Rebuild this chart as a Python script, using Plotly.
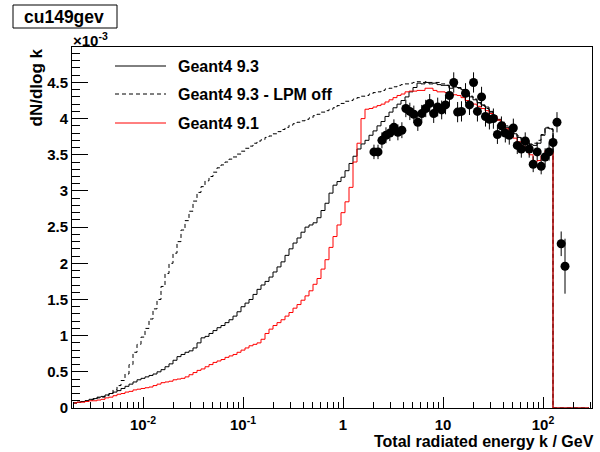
import numpy as np
import plotly.graph_objects as go

# ---------------- data (dN/dlog k in units of 1e-3) ----------------
LOG_K_MIN = -2.70      # log10 of lower edge of first bin (GeV)
LOG_BIN_WIDTH = 0.04   # bin width in log10(k)

geant4_93 = [
    0.07, 0.08, 0.09, 0.10, 0.12, 0.13, 0.15, 0.16, 0.18, 0.20,
    0.22, 0.24, 0.27, 0.30, 0.33, 0.36, 0.39, 0.41, 0.43, 0.45,
    0.47, 0.50, 0.53, 0.57, 0.61, 0.66, 0.71, 0.74, 0.77, 0.79,
    0.83, 0.90, 0.97, 0.99, 1.03, 1.07, 1.11, 1.14, 1.18, 1.22,
    1.27, 1.33, 1.40, 1.45, 1.50, 1.57, 1.64, 1.70, 1.75, 1.81,
    1.88, 1.95, 2.02, 2.11, 2.20, 2.28, 2.35, 2.43, 2.50, 2.53,
    2.56, 2.63, 2.73, 2.83, 2.97, 3.08, 3.13, 3.19, 3.28, 3.38,
    3.48, 3.58, 3.65, 3.70, 3.77, 3.83, 3.90, 3.96, 4.03, 4.09,
    4.15, 4.20, 4.25, 4.30, 4.37, 4.43, 4.49, 4.48, 4.50, 4.48,
    4.49, 4.47, 4.46, 4.46, 4.42, 4.44, 4.43, 4.40, 4.35, 4.30,
    4.26, 4.22, 4.19, 4.16, 4.10, 4.04, 3.99, 3.94, 3.88, 3.83,
    3.79, 3.74, 3.70, 3.67, 3.64, 3.63, 3.66, 3.77, 3.87, 3.86,
    0, 0, 0, 0, 0, 0, 0, 0, 0,
]

geant4_93_lpm_off = [
    0.07, 0.08, 0.09, 0.10, 0.11, 0.12, 0.14, 0.15, 0.17, 0.20,
    0.25, 0.31, 0.38, 0.47, 0.60, 0.77, 0.88, 0.98, 1.10, 1.23,
    1.37, 1.50, 1.68, 1.86, 2.00, 2.14, 2.30, 2.46, 2.59, 2.72,
    2.86, 2.98, 3.06, 3.14, 3.20, 3.26, 3.32, 3.36, 3.40, 3.44,
    3.47, 3.51, 3.55, 3.59, 3.62, 3.66, 3.69, 3.71, 3.74, 3.76,
    3.79, 3.82, 3.85, 3.88, 3.91, 3.93, 3.95, 3.97, 3.99, 4.01,
    4.04, 4.06, 4.09, 4.11, 4.13, 4.15, 4.18, 4.21, 4.24, 4.25,
    4.27, 4.29, 4.31, 4.32, 4.34, 4.36, 4.37, 4.39, 4.41, 4.42,
    4.44, 4.46, 4.47, 4.48, 4.49, 4.50, 4.51, 4.50, 4.51, 4.50,
    4.50, 4.50, 4.48, 4.46, 4.44, 4.44, 4.42, 4.39, 4.34, 4.31,
    4.27, 4.22, 4.18, 4.14, 4.09, 4.03, 3.98, 3.95, 3.90, 3.85,
    3.80, 3.76, 3.72, 3.68, 3.65, 3.66, 3.70, 3.78, 3.88, 3.85,
    0, 0, 0, 0, 0, 0, 0, 0, 0,
]

geant4_91 = [
    0.07, 0.08, 0.08, 0.09, 0.10, 0.10, 0.11, 0.12, 0.14, 0.15,
    0.17, 0.19, 0.20, 0.22, 0.23, 0.25, 0.26, 0.27, 0.28, 0.29,
    0.31, 0.33, 0.35, 0.36, 0.37, 0.39, 0.40, 0.41, 0.43, 0.46,
    0.49, 0.52, 0.54, 0.57, 0.60, 0.63, 0.65, 0.67, 0.70, 0.72,
    0.74, 0.77, 0.80, 0.83, 0.86, 0.88, 0.90, 0.95, 1.03, 1.09,
    1.14, 1.18, 1.22, 1.27, 1.32, 1.38, 1.43, 1.49, 1.55, 1.62,
    1.71, 1.79, 1.92, 2.05, 2.22, 2.37, 2.53, 2.70, 2.85, 3.05,
    3.40, 3.66, 4.00, 4.13, 4.14, 4.16, 4.18, 4.20, 4.23, 4.26,
    4.29, 4.32, 4.34, 4.37, 4.38, 4.38, 4.39, 4.39, 4.42, 4.42,
    4.39, 4.37, 4.37, 4.36, 4.35, 4.33, 4.32, 4.29, 4.25, 4.22,
    4.20, 4.17, 4.14, 4.11, 4.07, 4.03, 3.98, 3.93, 3.86, 3.78,
    3.73, 3.68, 3.62, 3.56, 3.50, 3.40, 3.42, 3.49, 3.56, 3.55,
    0, 0, 0, 0, 0, 0, 0, 0, 0,
]

data_k = [
    2.04, 2.24, 2.45, 2.69, 2.94, 3.23, 3.54, 3.88, 4.25, 4.66,
    5.11, 5.60, 6.13, 6.72, 7.36, 8.07, 8.85, 9.70, 10.6, 11.6,
    12.8, 14.0, 15.3, 16.8, 18.4, 20.2, 22.1, 24.3, 26.6, 29.1,
    31.9, 35.0, 38.4, 42.0, 46.0, 50.5, 55.3, 60.7, 66.4, 72.8,
    79.8, 87.5, 95.9, 105, 115, 126, 138, 152, 166,
]
data_val = [
    3.54, 3.54, 3.70, 3.77, 3.80, 3.88, 3.81, 3.84, 4.14, 4.10,
    4.06, 3.95, 4.07, 4.14, 4.21, 4.07, 4.16, 4.12, 4.19, 4.32,
    4.50, 4.09, 4.10, 4.35, 4.19, 4.50, 4.10, 4.30, 4.03, 3.99,
    4.00, 3.78, 3.90, 3.80, 3.77, 3.87, 3.63, 3.58, 3.69, 3.58,
    3.37, 3.54, 3.34, 3.47, 3.54, 3.67, 3.95, 2.27, 1.96,
]
data_err = [
    0.10, 0.10, 0.11, 0.11, 0.11, 0.11, 0.11, 0.11, 0.12, 0.12,
    0.12, 0.12, 0.12, 0.12, 0.13, 0.13, 0.13, 0.13, 0.13, 0.14,
    0.14, 0.14, 0.14, 0.14, 0.14, 0.14, 0.14, 0.14, 0.14, 0.14,
    0.14, 0.13, 0.13, 0.13, 0.13, 0.13, 0.12, 0.12, 0.12, 0.12,
    0.11, 0.12, 0.11, 0.12, 0.12, 0.13, 0.14, 0.17, 0.38,
]

x_tick_vals = [0.01, 0.1, 1, 10, 100]
x_tick_text = ["10<sup>-2</sup>", "10<sup>-1</sup>", "1", "10", "10<sup>2</sup>"]
y_tick_vals = [0, 0.5, 1, 1.5, 2, 2.5, 3, 3.5, 4, 4.5]
y_tick_text = ["0", "0.5", "1", "1.5", "2", "2.5", "3", "3.5", "4", "4.5"]

legend_labels = ["Geant4 9.3", "Geant4 9.3 - LPM off", "Geant4 9.1"]

# ---------------- figure ----------------
W, H = 600, 452
L, R, T, B = 72, 8, 47, 44
PW, PH = W - L - R, H - T - B

def px_x(px):
    return (px - L) / PW

def px_y(py):
    return (H - B - py) / PH

FONT = "Liberation Sans"

n_bins = len(geant4_93)
edges = 10 ** (LOG_K_MIN + LOG_BIN_WIDTH * np.arange(n_bins + 1))

def hist_trace(vals, color, dash):
    y = list(vals) + [vals[-1]]
    return go.Scatter(x=edges, y=y, mode="lines",
                      line=dict(shape="hv", color=color, width=1, dash=dash),
                      showlegend=False, hoverinfo="skip")

fig = go.Figure()
fig.add_trace(hist_trace(geant4_93_lpm_off, "black", "4px,3px"))
fig.add_trace(hist_trace(geant4_93, "black", "solid"))
fig.add_trace(hist_trace(geant4_91, "#ff0000", "solid"))
fig.add_trace(go.Scatter(
    x=data_k, y=data_val, mode="markers",
    marker=dict(symbol="circle", size=9, color="black"),
    error_y=dict(type="data", array=data_err, width=0, thickness=1, color="black"),
    showlegend=False, cliponaxis=False))

minor_x = [m * 10.0 ** d for d in range(-3, 3) for m in range(2, 10)]
minor_x = [v for v in minor_x if 0.00196 < v < 309]

fig.update_layout(
    width=W, height=H,
    margin=dict(l=L, r=R, t=T, b=B, pad=0),
    paper_bgcolor="white", plot_bgcolor="white",
    font=dict(family=FONT, color="black"),
    showlegend=False,
    xaxis=dict(
        type="log", range=[-2.71, 2.49],
        showline=True, linecolor="black", linewidth=1, mirror=True,
        ticks="inside", ticklen=11, tickwidth=1, tickcolor="black",
        tickmode="array", tickvals=x_tick_vals, ticktext=x_tick_text,
        tickfont=dict(family=FONT, size=15, color="black", weight="bold"),
        ticklabelstandoff=3,
        showgrid=False, zeroline=False,
        minor=dict(tickmode="array", tickvals=minor_x, ticks="inside",
                   ticklen=6, tickwidth=1, tickcolor="black", showgrid=False),
    ),
    yaxis=dict(
        range=[0, 4.99],
        showline=True, linecolor="black", linewidth=1, mirror=True,
        ticks="inside", ticklen=16, tickwidth=1, tickcolor="black",
        tickmode="array", tickvals=y_tick_vals, ticktext=y_tick_text,
        tickfont=dict(family=FONT, size=15, color="black", weight="bold"),
        showgrid=False, zeroline=False,
        minor=dict(dtick=0.1, ticks="inside", ticklen=8, tickwidth=1,
                   tickcolor="black", showgrid=False),
    ),
)

shapes = []
annotations = []

# title box
shapes.append(dict(type="rect", xref="paper", yref="paper",
                   x0=px_x(13), x1=px_x(117), y0=px_y(28), y1=px_y(5),
                   line=dict(color="black", width=1), fillcolor="white"))
annotations.append(dict(text="cu149gev", xref="paper", yref="paper",
                        x=px_x(64), y=px_y(17), xanchor="center", yanchor="middle",
                        showarrow=False,
                        font=dict(family=FONT, size=17.5, color="black", weight="bold")))
# exponent
annotations.append(dict(text="×10<sup>-3</sup>", xref="paper", yref="paper",
                        x=px_x(71), y=px_y(39), xanchor="left", yanchor="middle",
                        showarrow=False,
                        font=dict(family=FONT, size=15, color="black", weight="bold")))
# axis titles
annotations.append(dict(text="dN/dlog k", xref="paper", yref="paper",
                        x=px_x(35.5), y=px_y(47), xanchor="center", yanchor="top",
                        textangle=-90, showarrow=False,
                        font=dict(family=FONT, size=17, color="black", weight="bold")))
annotations.append(dict(text="Total radiated energy k / GeV", xref="paper", yref="paper",
                        x=px_x(596), y=px_y(441), xanchor="right", yanchor="middle",
                        showarrow=False,
                        font=dict(family=FONT, size=16, color="black", weight="bold")))

# legend
leg_y = [66, 94, 123]
leg_style = [("black", "solid"), ("black", "4px,3px"), ("#ff0000", "solid")]
for lab, yy, (col, dsh) in zip(legend_labels, leg_y, leg_style):
    shapes.append(dict(type="line", xref="paper", yref="paper",
                       x0=px_x(115), x1=px_x(166), y0=px_y(yy), y1=px_y(yy),
                       line=dict(color=col, width=1, dash=dsh)))
    annotations.append(dict(text=lab, xref="paper", yref="paper",
                            x=px_x(176), y=px_y(yy), xanchor="left", yanchor="middle",
                            showarrow=False,
                            font=dict(family=FONT, size=16, color="black", weight="bold")))

fig.update_layout(shapes=shapes, annotations=annotations)
fig.write_html("out.html")
